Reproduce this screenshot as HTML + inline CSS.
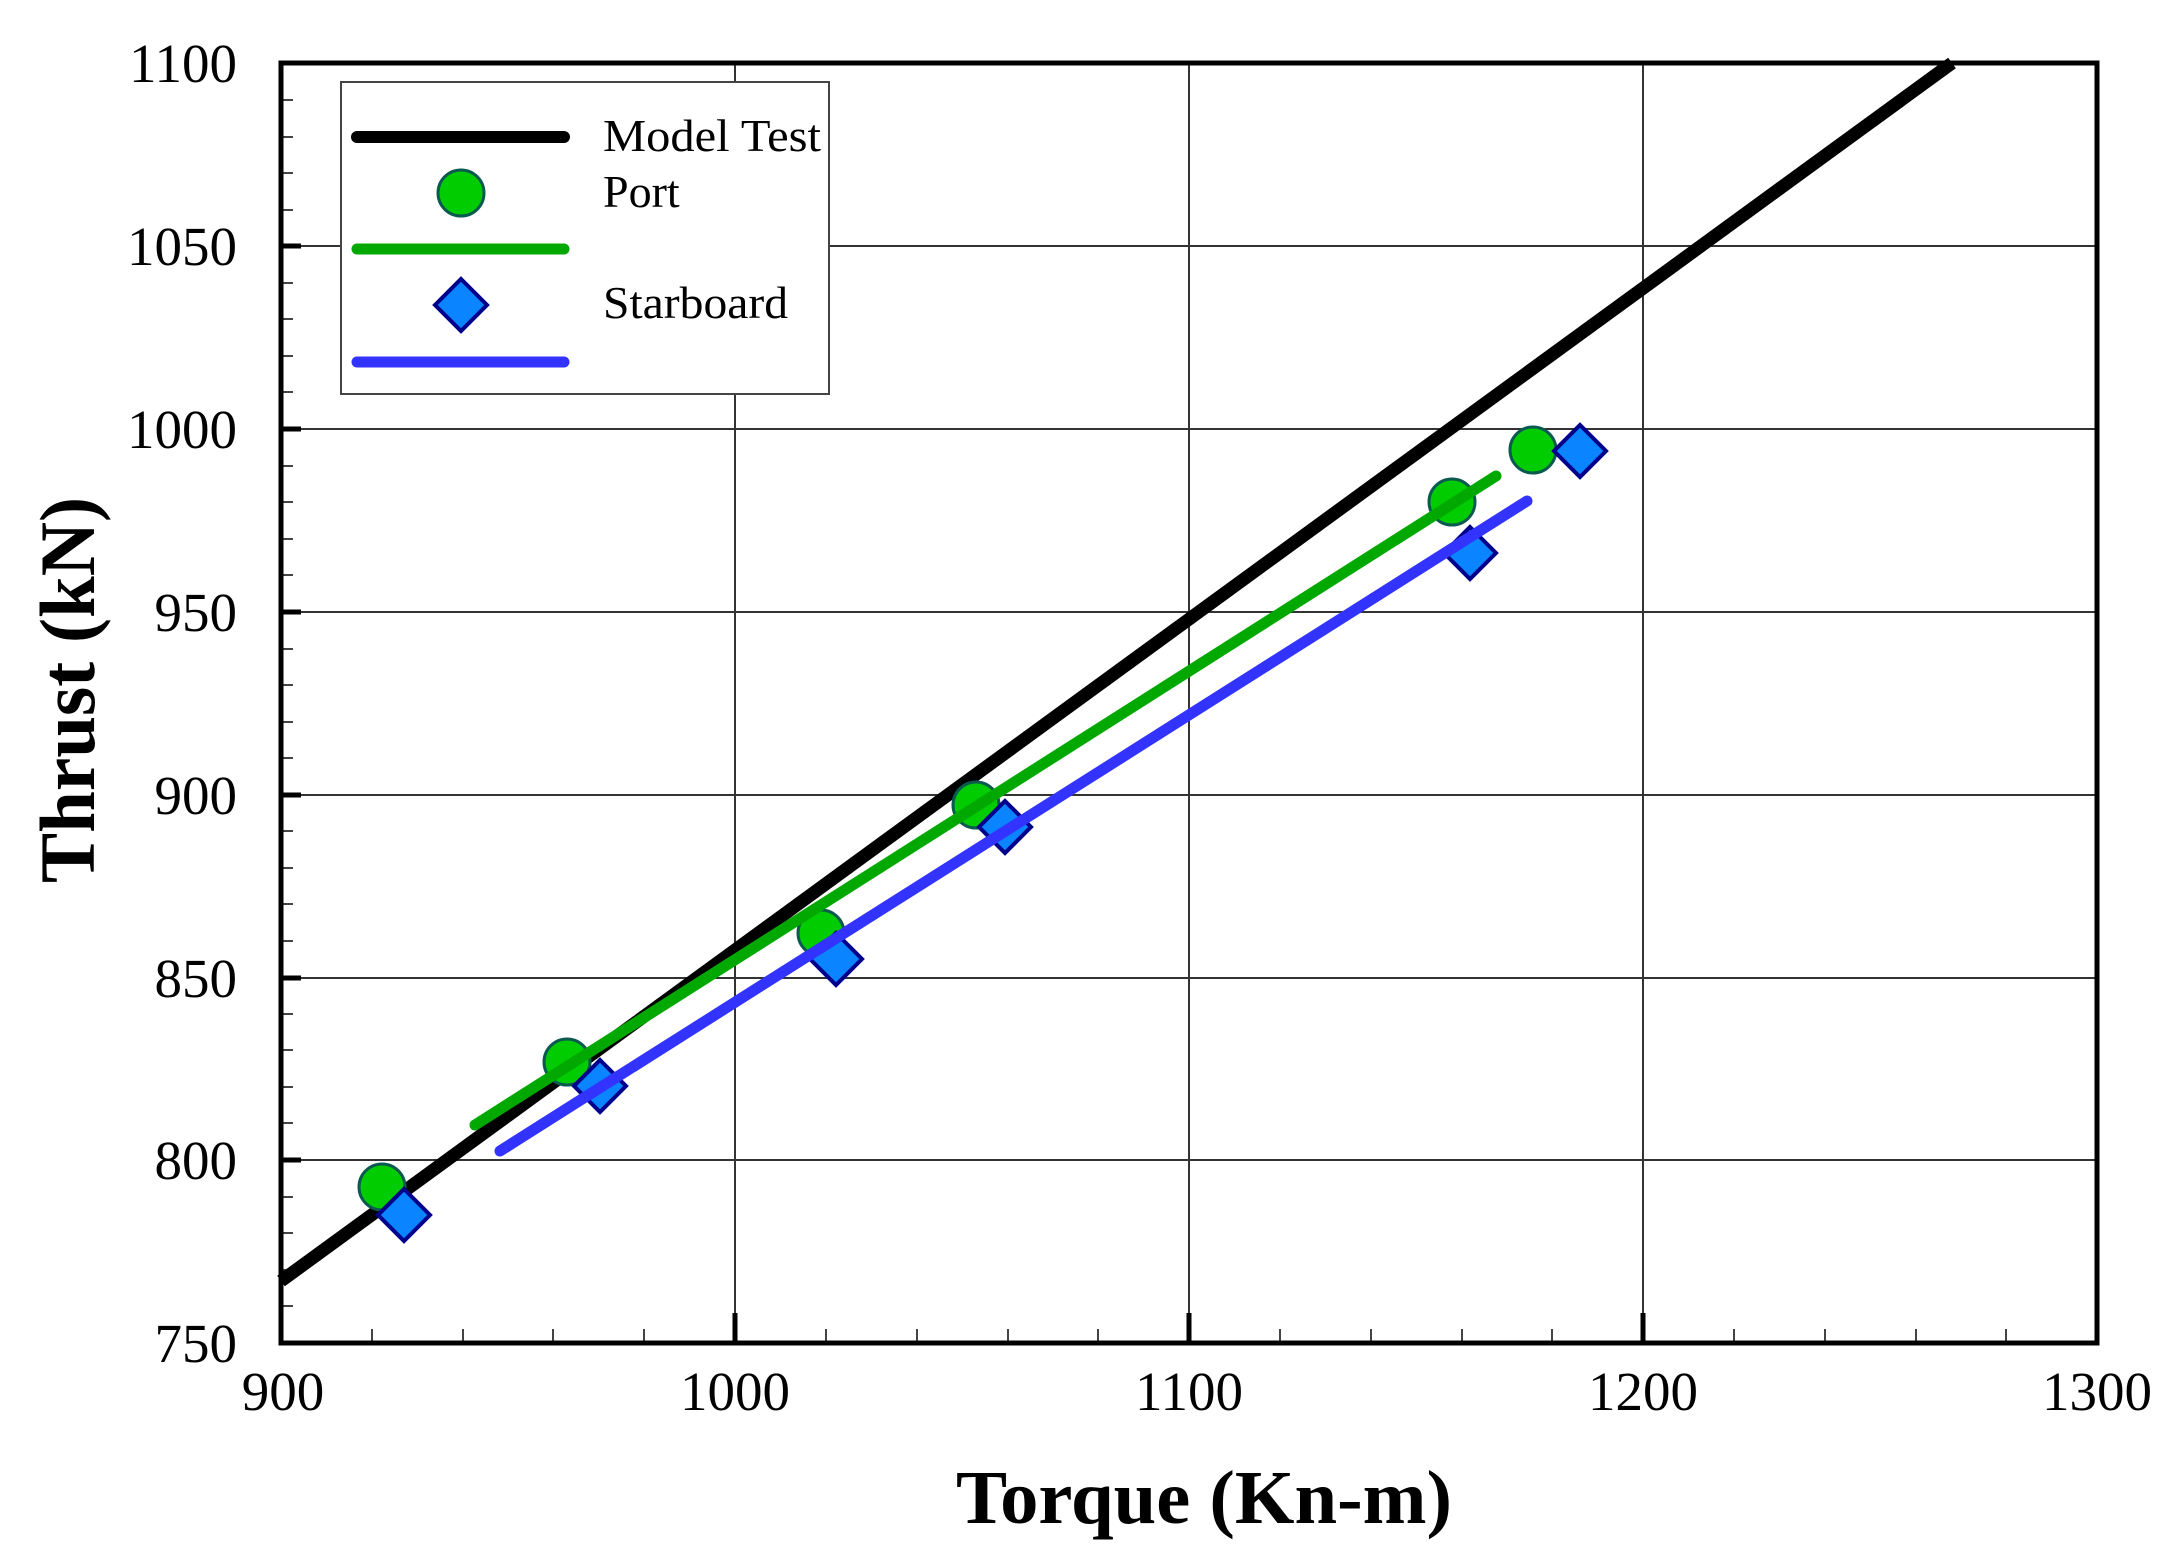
<!DOCTYPE html>
<html><head><meta charset="utf-8"><style>
html,body{margin:0;padding:0;background:#fff}
svg{display:block}
text{font-family:"Liberation Serif","Times New Roman",serif}
</style></head><body>
<svg width="2181" height="1551" viewBox="0 0 2181 1551" xmlns="http://www.w3.org/2000/svg">
<rect width="2181" height="1551" fill="#fff"/>
<g stroke="#333" stroke-width="2">
<line x1="735" y1="63" x2="735" y2="1343"/>
<line x1="1189" y1="63" x2="1189" y2="1343"/>
<line x1="1643" y1="63" x2="1643" y2="1343"/>
<line x1="281" y1="246" x2="2097" y2="246"/>
<line x1="281" y1="429" x2="2097" y2="429"/>
<line x1="281" y1="612" x2="2097" y2="612"/>
<line x1="281" y1="795" x2="2097" y2="795"/>
<line x1="281" y1="978" x2="2097" y2="978"/>
<line x1="281" y1="1160" x2="2097" y2="1160"/>
</g>
<g stroke="#444" stroke-width="2">
<path d="M372 1343v-14M463 1343v-14M553 1343v-14M644 1343v-14M826 1343v-14M917 1343v-14M1008 1343v-14M1098 1343v-14M1280 1343v-14M1371 1343v-14M1462 1343v-14M1552 1343v-14M1734 1343v-14M1825 1343v-14M1916 1343v-14M2006 1343v-14"/>
<path d="M281 1306h12M281 1270h12M281 1233h12M281 1197h12M281 1123h12M281 1087h12M281 1050h12M281 1014h12M281 941h12M281 904h12M281 868h12M281 831h12M281 758h12M281 722h12M281 685h12M281 649h12M281 575h12M281 539h12M281 502h12M281 466h12M281 392h12M281 356h12M281 319h12M281 283h12M281 210h12M281 173h12M281 137h12M281 100h12"/>
</g>
<g stroke="#000" stroke-width="5">
<path d="M735 1343v-30M1189 1343v-30M1643 1343v-30M2097 1343v-30"/>
<path d="M281 246h20M281 429h20M281 612h20M281 795h20M281 978h20M281 1160h20"/>
</g>
<rect x="281" y="63" width="1816" height="1280" fill="none" stroke="#000" stroke-width="5"/>
<line x1="281" y1="1281" x2="1952" y2="63" stroke="#000" stroke-width="13"/>
<g fill="#00cc00" stroke="#0a5a50" stroke-width="3">
<circle cx="382" cy="1187" r="23"/><circle cx="567" cy="1062" r="23"/><circle cx="821" cy="933" r="23"/>
<circle cx="976" cy="805" r="23"/><circle cx="1452" cy="502" r="23"/><circle cx="1533" cy="450" r="23"/>
</g>
<g fill="#0a84ff" stroke="#00008b" stroke-width="4">
<path d="M404 1189l26 26-26 26-26-26z"/>
<path d="M600 1060l26 26-26 26-26-26z"/>
<path d="M836 933l26 26-26 26-26-26z"/>
<path d="M1005 801l26 26-26 26-26-26z"/>
<path d="M1470 527l26 26-26 26-26-26z"/>
<path d="M1580 425l26 26-26 26-26-26z"/>
</g>
<line x1="475" y1="1125" x2="1496" y2="476" stroke="#00a800" stroke-width="11" stroke-linecap="round"/>
<line x1="500" y1="1151" x2="1527" y2="501" stroke="#3333ff" stroke-width="11" stroke-linecap="round"/>
<rect x="341" y="82" width="488" height="312" fill="#fff" stroke="#444" stroke-width="2"/>
<line x1="357" y1="137" x2="564" y2="137" stroke="#000" stroke-width="12" stroke-linecap="round"/>
<circle cx="461" cy="193" r="23" fill="#00cc00" stroke="#0a5a50" stroke-width="3"/>
<line x1="357" y1="249" x2="564" y2="249" stroke="#00a800" stroke-width="11" stroke-linecap="round"/>
<path d="M461 279l26 26-26 26-26-26z" fill="#0a84ff" stroke="#00008b" stroke-width="4"/>
<line x1="357" y1="362" x2="564" y2="362" stroke="#3333ff" stroke-width="11" stroke-linecap="round"/>
<g font-size="46" fill="#000">
<text x="603" y="151" textLength="218" lengthAdjust="spacingAndGlyphs">Model Test</text>
<text x="603" y="207">Port</text>
<text x="603" y="318" textLength="185" lengthAdjust="spacingAndGlyphs">Starboard</text>
</g>
<g font-size="55" text-anchor="end" fill="#000">
<text x="237" y="82">1100</text>
<text x="237" y="265">1050</text>
<text x="237" y="448">1000</text>
<text x="237" y="631">950</text>
<text x="237" y="814">900</text>
<text x="237" y="997">850</text>
<text x="237" y="1179">800</text>
<text x="237" y="1362">750</text>
</g>
<g font-size="55" text-anchor="middle" fill="#000">
<text x="283" y="1410">900</text>
<text x="735" y="1410">1000</text>
<text x="1189" y="1410">1100</text>
<text x="1643" y="1410">1200</text>
<text x="2097" y="1410">1300</text>
</g>
<text x="1204" y="1523" font-size="76" font-weight="bold" text-anchor="middle" textLength="496" lengthAdjust="spacingAndGlyphs">Torque (Kn-m)</text>
<text transform="translate(94,690) rotate(-90)" font-size="78" font-weight="bold" text-anchor="middle" textLength="386" lengthAdjust="spacingAndGlyphs">Thrust (kN)</text>
</svg>
</body></html>
